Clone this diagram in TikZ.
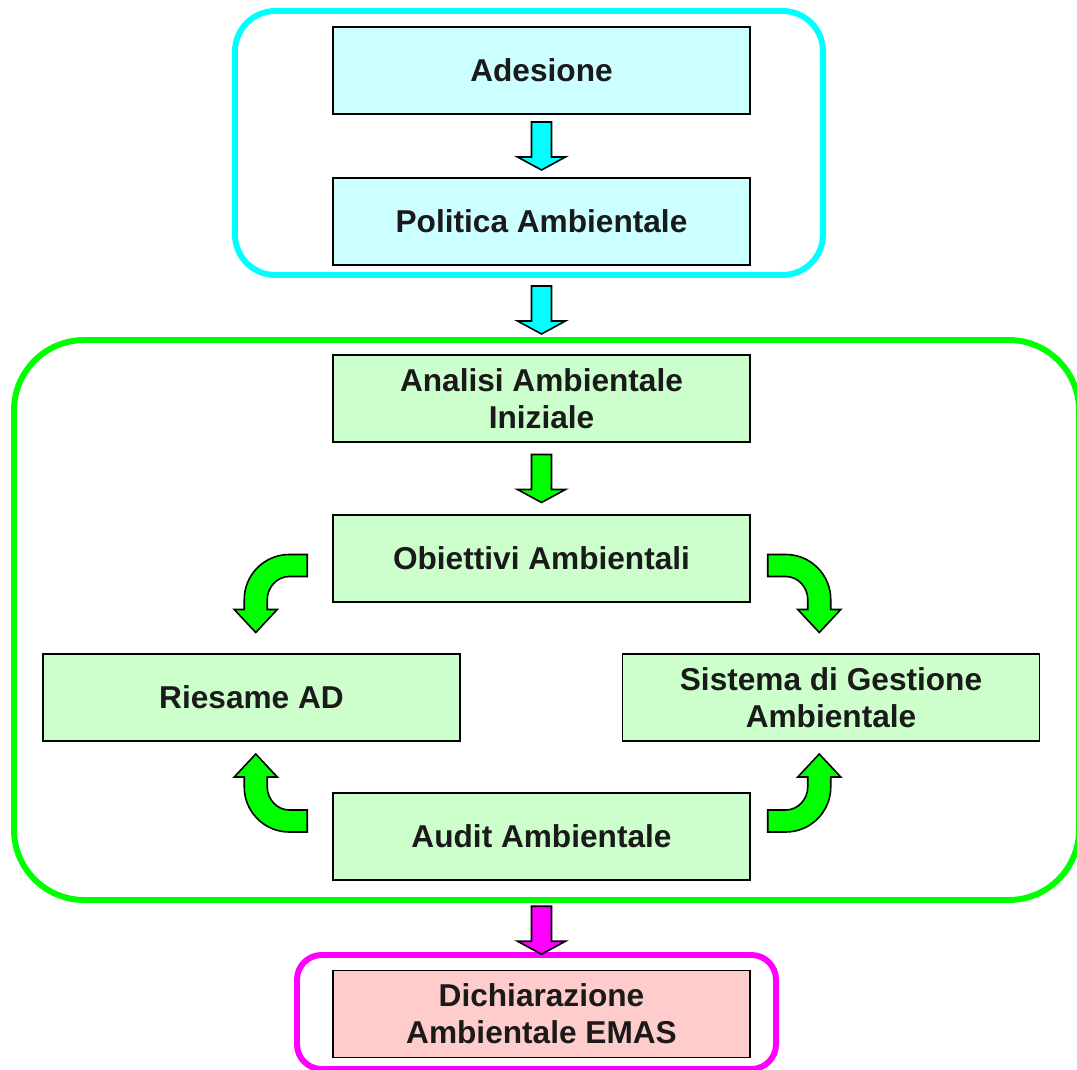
\documentclass[tikz,border=0pt]{standalone}
\usepackage{fontspec}
\setmainfont{Liberation Sans}
\usetikzlibrary{calc}

\definecolor{boxcyan}{HTML}{CCFFFF}
\definecolor{boxgreen}{HTML}{CCFFCC}
\definecolor{boxpink}{HTML}{FFCCCC}
\definecolor{txtgray}{HTML}{1A1A1A}
\definecolor{frcyan}{HTML}{00FFFF}
\definecolor{frgreen}{HTML}{00FF00}
\definecolor{frmagenta}{HTML}{FF00FF}

\tikzset{
	stepbox/.style={draw=black, line width=0.9pt, minimum width=8.34cm, minimum height=1.74cm,
		align=center, text=txtgray, font=\fontsize{18}{21}\selectfont\bfseries},
	frameline/.style={line width=3.4pt},
	blockarrow/.style={draw=black, line width=0.9pt, line join=miter},
	downarrow/.pic={
		\path[blockarrow,pic actions] (-10,-24) -- (10,-24) -- (10,11) -- (24,11) -- (0,24)
			-- (-24,11) -- (-10,11) -- cycle;
	},
	bentarrow/.pic={
		\path[blockarrow,pic actions] (0,0) -- (-18,0) .. controls (-42.8,0) and (-63,20.2) .. (-63,45)
			-- (-63,55) -- (-73,55) -- (-51.5,78) -- (-30,55) -- (-40,55) -- (-40,45)
			.. controls (-40,32.8) and (-30.2,22) .. (-18,22) -- (0,22) -- cycle;
	}
}

\begin{document}
\begin{tikzpicture}[x=0.02cm,y=-0.02cm]
	\useasboundingbox (0,0) rectangle (1077,1070);
	
	%frames
	\draw[frameline, frcyan, rounded corners=23pt] (235,11) rectangle (823,275);
	\draw[frameline, frgreen, rounded corners=40pt] (14,340) rectangle (1079,900);
	\draw[frameline, frmagenta, rounded corners=14pt] (297,955) rectangle (776,1069);
	
	%boxes
	\node[stepbox, fill=boxcyan] (ades) at (541.5,70.5) {Adesione};
	\node[stepbox, fill=boxcyan] (pol) at (541.5,221.5) {Politica Ambientale};
	\node[stepbox, fill=boxgreen] (ana) at (541.5,398.5) {Analisi Ambientale\\Iniziale};
	\node[stepbox, fill=boxgreen] (obi) at (541.5,558.5) {Obiettivi Ambientali};
	\node[stepbox, fill=boxgreen] (ries) at (251.5,697.5) {Riesame AD};
	\node[stepbox, fill=boxgreen] (sis) at (831,697.5) {Sistema di Gestione\\Ambientale};
	\node[stepbox, fill=boxgreen] (aud) at (541.5,836.5) {Audit Ambientale};
	\node[stepbox, fill=boxpink] (dich) at (541.5,1014) {Dichiarazione\\Ambientale EMAS};
	
	%straight arrows
	\pic[fill=frcyan] at ($(ades.south)!0.5!(pol.north)$) {downarrow};
	\pic[fill=frcyan] at ($(pol.south)!0.5!(ana.north)$) {downarrow};
	\pic[fill=frgreen] at ($(ana.south)!0.5!(obi.north)$) {downarrow};
	\pic[fill=frmagenta] at ($(aud.south)!0.5!(dich.north)+(0,5)$) {downarrow};
	
	%bent arrows
	\pic[fill=frgreen] at ($(obi.west)+(-25,-4)$) {bentarrow};
	\pic[fill=frgreen, xscale=-1] at ($(obi.east)+(17,-4)$) {bentarrow};
	\pic[fill=frgreen, yscale=-1] at ($(aud.west)+(-25,-4.5)$) {bentarrow};
	\pic[fill=frgreen, xscale=-1, yscale=-1] at ($(aud.east)+(17,-4.5)$) {bentarrow};
\end{tikzpicture}
\end{document}
